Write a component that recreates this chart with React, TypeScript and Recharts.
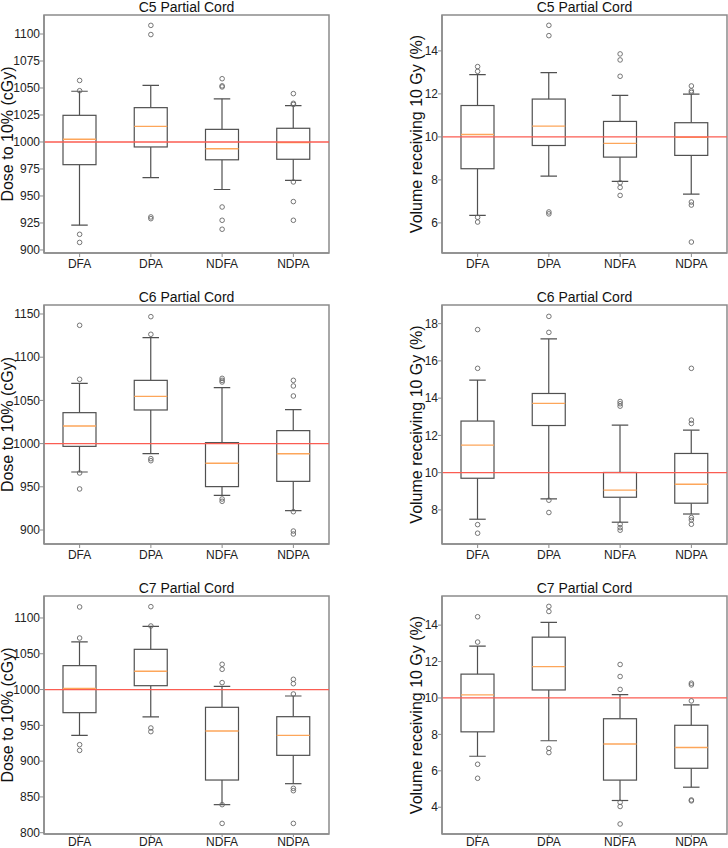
import { ComposedChart, Bar, Scatter, XAxis, YAxis, ReferenceLine, ReferenceArea } from "recharts";

const FONT = "'Liberation Sans', Arial, sans-serif";
const BOX_COLOR = "#505050";
const FRAME_COLOR = "#8c8c8c";
const MEDIAN_COLOR = "#fda65a";
const REF_COLOR = "#fb5d52";

const CATEGORIES = ["DFA", "DPA", "NDFA", "NDPA"];

// C5 - dose to 10% (cGy)
const C5_DOSE_WLO = [923, 967, 956, 964.5];
const C5_DOSE_Q1 = [979, 995.4, 983.5, 984];
const C5_DOSE_MED = [1002.5, 1014.5, 993.8, 999.4];
const C5_DOSE_Q3 = [1024.7, 1031.8, 1011.7, 1012.7];
const C5_DOSE_WHI = [1047, 1052.5, 1040, 1033.6];
const C5_DOSE_OUT = [
  [1057, 1047.5, 914.5, 907],
  [1108, 1099.5, 930.6, 929],
  [1058.6, 1052, 1051, 939.8, 927.5, 919.2],
  [1044.8, 1035.8, 1034.8, 963, 944.8, 927.5],
];
const C5_DOSE_TICKS = [900, 925, 950, 975, 1000, 1025, 1050, 1075, 1100];

// C5 - volume receiving 10 Gy (%)
const C5_VOL_WLO = [6.35, 8.18, 7.93, 7.34];
const C5_VOL_Q1 = [8.52, 9.6, 9.06, 9.14];
const C5_VOL_MED = [10.11, 10.5, 9.7, 9.98];
const C5_VOL_Q3 = [11.46, 11.76, 10.72, 10.66];
const C5_VOL_WHI = [12.9, 12.99, 11.93, 11.99];
const C5_VOL_OUT = [
  [13.27, 13.05, 6.26, 6.04],
  [15.19, 14.71, 6.51, 6.42],
  [13.86, 13.58, 12.82, 7.87, 7.65, 7.28],
  [12.37, 12.14, 12.07, 6.97, 6.83, 5.11],
];
const C5_VOL_TICKS = [6, 8, 10, 12, 14];

// C6 - dose
const C6_DOSE_WLO = [967.1, 988.3, 940.1, 922.4];
const C6_DOSE_Q1 = [996.8, 1038.9, 950.2, 956.3];
const C6_DOSE_MED = [1020.4, 1054.7, 977.2, 988.3];
const C6_DOSE_Q3 = [1035.8, 1073.2, 1001.1, 1015];
const C6_DOSE_WHI = [1069.8, 1122.6, 1064.7, 1039.3];
const C6_DOSE_OUT = [
  [1136.9, 1074.4, 966, 947.5],
  [1146.9, 1126.5, 982.6, 980.2],
  [1075.5, 1073.2, 1071.3, 935.9, 933.2],
  [1073.2, 1066.7, 1055.1, 921.2, 898.8, 895.4],
];
const C6_DOSE_TICKS = [900, 950, 1000, 1050, 1100, 1150];

// C6 - volume
const C6_VOL_WLO = [7.5, 8.59, 7.34, 7.78];
const C6_VOL_Q1 = [9.7, 12.53, 8.68, 8.36];
const C6_VOL_MED = [11.48, 13.72, 9.06, 9.38];
const C6_VOL_Q3 = [12.77, 14.25, 10.01, 11.03];
const C6_VOL_WHI = [14.97, 17.18, 12.55, 12.28];
const C6_VOL_OUT = [
  [17.68, 15.6, 7.21, 6.75],
  [18.39, 17.53, 8.52, 7.86],
  [13.82, 13.7, 13.57, 7.23, 7.05, 6.91],
  [15.6, 12.82, 12.64, 7.59, 7.46, 7.23],
];
const C6_VOL_TICKS = [8, 10, 12, 14, 16, 18];

// C7 - dose
const C7_DOSE_WLO = [936, 961.7, 839.2, 868.5];
const C7_DOSE_Q1 = [967.7, 1005.4, 873.6, 908.1];
const C7_DOSE_MED = [1001.7, 1025.5, 942.1, 936];
const C7_DOSE_Q3 = [1033.4, 1056.2, 975.2, 962.1];
const C7_DOSE_WHI = [1066.5, 1088.4, 1004.5, 991];
const C7_DOSE_OUT = [
  [1115.4, 1072, 923, 915],
  [1115.8, 1088.8, 946.3, 941.2],
  [1035.3, 1028.3, 1009.7, 839.2, 813],
  [1014.3, 1008.2, 993.8, 862, 858.7, 813],
];
const C7_DOSE_TICKS = [800, 850, 900, 950, 1000, 1050, 1100];

// C7 - volume
const C7_VOL_WLO = [6.8, 7.65, 4.37, 5.1];
const C7_VOL_Q1 = [8.14, 10.44, 5.49, 6.14];
const C7_VOL_MED = [10.17, 11.72, 7.47, 7.28];
const C7_VOL_Q3 = [11.31, 13.34, 8.86, 8.5];
const C7_VOL_WHI = [12.85, 14.15, 10.18, 9.62];
const C7_VOL_OUT = [
  [14.46, 13.07, 6.36, 5.59],
  [15.03, 14.75, 7.23, 7.0],
  [11.84, 11.18, 10.47, 4.27, 4.04, 3.08],
  [10.81, 10.72, 9.84, 4.4, 4.35],
];
const C7_VOL_TICKS = [4, 6, 8, 10, 12, 14];

const DOSE_LABEL = "Dose to 10% (cGy)";
const VOL_LABEL = "Volume receiving 10 Gy (%)";

const makeBoxes = (wlo: number[], q1: number[], med: number[], q3: number[], whi: number[]) =>
  CATEGORIES.map((cat, i) => ({ cat, lo: wlo[i], q1: q1[i], med: med[i], q3: q3[i], hi: whi[i] }));

const makeOutliers = (out: number[][]) =>
  out.flatMap((vals, i) => vals.map((v) => ({ cat: CATEGORIES[i], v })));

// layout: rows and columns of the 3x2 grid
const ROWS = [
  { top: 0, height: 290, plotTop: 15, plotBottom: 253, xTickSize: 4, xTickMargin: 2 },
  { top: 290, height: 280, plotTop: 305, plotBottom: 544, xTickSize: 4, xTickMargin: 2 },
  { top: 570, height: 278, plotTop: 596, plotBottom: 834, xTickSize: 3, xTickMargin: 0 },
];
const COLS = [
  { left: 0, plotLeft: 44, plotRight: 329, labelX: 12.5 },
  { left: 364, plotLeft: 442, plotRight: 727, labelX: 422 },
];

const PANELS = [
  { row: 0, col: 0, title: "C5 Partial Cord", ylabel: DOSE_LABEL, domain: [897.2, 1117.6], ticks: C5_DOSE_TICKS, ref: 1000,
    boxes: makeBoxes(C5_DOSE_WLO, C5_DOSE_Q1, C5_DOSE_MED, C5_DOSE_Q3, C5_DOSE_WHI), outliers: makeOutliers(C5_DOSE_OUT) },
  { row: 0, col: 1, title: "C5 Partial Cord", ylabel: VOL_LABEL, domain: [4.6, 15.67], ticks: C5_VOL_TICKS, ref: 10,
    boxes: makeBoxes(C5_VOL_WLO, C5_VOL_Q1, C5_VOL_MED, C5_VOL_Q3, C5_VOL_WHI), outliers: makeOutliers(C5_VOL_OUT) },
  { row: 1, col: 0, title: "C6 Partial Cord", ylabel: DOSE_LABEL, domain: [883.8, 1160.4], ticks: C6_DOSE_TICKS, ref: 1000,
    boxes: makeBoxes(C6_DOSE_WLO, C6_DOSE_Q1, C6_DOSE_MED, C6_DOSE_Q3, C6_DOSE_WHI), outliers: makeOutliers(C6_DOSE_OUT) },
  { row: 1, col: 1, title: "C6 Partial Cord", ylabel: VOL_LABEL, domain: [6.17, 19.0], ticks: C6_VOL_TICKS, ref: 10,
    boxes: makeBoxes(C6_VOL_WLO, C6_VOL_Q1, C6_VOL_MED, C6_VOL_Q3, C6_VOL_WHI), outliers: makeOutliers(C6_VOL_OUT) },
  { row: 2, col: 0, title: "C7 Partial Cord", ylabel: DOSE_LABEL, domain: [798.2, 1130.7], ticks: C7_DOSE_TICKS, ref: 1000,
    boxes: makeBoxes(C7_DOSE_WLO, C7_DOSE_Q1, C7_DOSE_MED, C7_DOSE_Q3, C7_DOSE_WHI), outliers: makeOutliers(C7_DOSE_OUT) },
  { row: 2, col: 1, title: "C7 Partial Cord", ylabel: VOL_LABEL, domain: [2.53, 15.6], ticks: C7_VOL_TICKS, ref: 10,
    boxes: makeBoxes(C7_VOL_WLO, C7_VOL_Q1, C7_VOL_MED, C7_VOL_Q3, C7_VOL_WHI), outliers: makeOutliers(C7_VOL_OUT) },
];

// box + whiskers drawn inside the range bar [lo, hi]
const BoxShape = (props: any) => {
  const { x, y, width, height, payload } = props;
  if (!payload) return null;
  const { lo, q1, med, q3, hi } = payload;
  const py = (v: number) => y + ((hi - v) / (hi - lo)) * height;
  const cx = x + width / 2;
  const cap = width / 4;
  return (
    <g stroke={BOX_COLOR} strokeWidth={1.2} fill="none">
      <line x1={cx} x2={cx} y1={py(hi)} y2={py(q3)} />
      <line x1={cx} x2={cx} y1={py(q1)} y2={py(lo)} />
      <line x1={cx - cap} x2={cx + cap} y1={py(hi)} y2={py(hi)} />
      <line x1={cx - cap} x2={cx + cap} y1={py(lo)} y2={py(lo)} />
      <rect x={x} y={py(q3)} width={width} height={py(q1) - py(q3)} fill="#fff" />
      <line x1={x} x2={x + width} y1={py(med)} y2={py(med)} stroke={MEDIAN_COLOR} strokeWidth={1.4} />
    </g>
  );
};

const OutlierDot = (props: any) => (
  <circle cx={props.cx} cy={props.cy} r={2.3} fill="none" stroke="#666" strokeWidth={0.9} />
);

function Panel({ p }: { p: (typeof PANELS)[number] }) {
  const row = ROWS[p.row];
  const col = COLS[p.col];
  const yWidth = col.plotLeft - col.left;
  return (
    <div style={{ position: "absolute", left: col.left, top: row.top }}>
      <ComposedChart
        width={364}
        height={row.height}
        data={p.boxes}
        margin={{ top: row.plotTop - row.top, right: col.left + 364 - col.plotRight, bottom: 0, left: 0 }}
      >
        <XAxis
          dataKey="cat"
          type="category"
          allowDuplicatedCategory={false}
          height={row.top + row.height - row.plotBottom}
          tick={{ fontSize: 12, fill: "#222", fontFamily: FONT }}
          tickSize={row.xTickSize}
          tickMargin={row.xTickMargin}
          stroke={FRAME_COLOR}
          axisLine={{ stroke: FRAME_COLOR, strokeWidth: 1.5 }}
        />
        <YAxis
          type="number"
          domain={p.domain}
          ticks={p.ticks}
          allowDataOverflow
          width={yWidth}
          tick={{ fontSize: 12, fill: "#222", fontFamily: FONT }}
          tickSize={4}
          tickMargin={0}
          stroke={FRAME_COLOR}
          axisLine={{ stroke: FRAME_COLOR, strokeWidth: 1.5 }}
        />
        <ReferenceArea y1={p.domain[0]} y2={p.domain[1]} fill="none" stroke={FRAME_COLOR} strokeWidth={1.5} ifOverflow="visible" />
        <Bar dataKey={(d: any) => [d.lo, d.hi]} barSize={33} shape={BoxShape} isAnimationActive={false} />
        <ReferenceLine y={p.ref} stroke={REF_COLOR} strokeWidth={1.3} />
        <Scatter data={p.outliers} dataKey="v" shape={OutlierDot} isAnimationActive={false} />
      </ComposedChart>
    </div>
  );
}

export default function App() {
  return (
    <div style={{ position: "absolute", left: 0, top: 0, width: 728, height: 848, background: "#fff", fontFamily: FONT }}>
      {PANELS.map((p, i) => (
        <Panel key={i} p={p} />
      ))}
      <svg width={728} height={848} style={{ position: "absolute", left: 0, top: 0, pointerEvents: "none" }}>
        {PANELS.map((p, i) => {
          const row = ROWS[p.row];
          const col = COLS[p.col];
          const cx = (col.plotLeft + col.plotRight) / 2;
          const cy = (row.plotTop + row.plotBottom) / 2;
          return (
            <g key={i} fontFamily={FONT} fill="#111">
              <text x={cx} y={row.plotTop - 3} fontSize={14} textAnchor="middle">
                {p.title}
              </text>
              <text x={col.labelX} y={cy} fontSize={16} textAnchor="middle" transform={`rotate(-90, ${col.labelX}, ${cy})`}>
                {p.ylabel}
              </text>
            </g>
          );
        })}
      </svg>
    </div>
  );
}
